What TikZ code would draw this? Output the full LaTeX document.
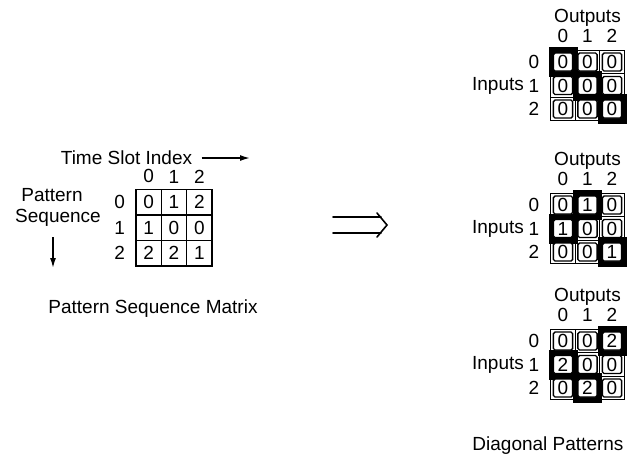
\documentclass[tikz,border=0pt]{standalone}
\usepackage{fontspec}
\setmainfont{Liberation Sans}
\usetikzlibrary{positioning,arrows.meta}

\tikzstyle{txt}=[inner sep=0pt, font=\fontsize{9.5}{11}\selectfont]
\tikzstyle{seqcell}=[
	rectangle,
	draw=black,
	line width=0.75pt,
	minimum width=12.65pt,
	minimum height=12.75pt,
	inner sep=0pt,
	font=\fontsize{9.5}{11}\selectfont
	]
\tikzstyle{cellbox}=[
	rectangle,
	draw=black,
	line width=0.45pt,
	minimum width=12.25pt,
	minimum height=11.75pt,
	inner sep=0pt
	]
\tikzstyle{hotbox}=[cellbox, fill=black, minimum width=14pt, minimum height=14.5pt]
\tikzstyle{slot}=[
	rectangle,
	draw=black,
	fill=white,
	line width=0.7pt,
	rounded corners=0.8pt,
	minimum width=9.6pt,
	minimum height=9pt,
	inner sep=0pt,
	font=\fontsize{9.5}{11}\selectfont
	]
\tikzstyle{flow}=[line width=0.75pt, -{Latex[length=5pt,width=3pt]}]
\tikzstyle{maps}=[line width=0.8pt, line cap=round, line join=miter]

\begin{document}
\begin{tikzpicture}[x=0.5pt, y=-0.5pt]
	\useasboundingbox (0,0) rectangle (638,457);

	% sequence matrix on the left
	\node (TimeSlot) [txt] at (126.5,158) {Time Slot Index};
	\coordinate (SlotEnd) at (250,158);
	\draw[flow] ([xshift=4.5pt]TimeSlot.east) -- (SlotEnd);

	\node (Pattern) [txt] at (52,195) {Pattern};
	\node (Sequence) [txt] at (58,218) {Sequence};
	\coordinate (SeqEnd) at (53,268);
	\draw[flow] (53,237) -- (SeqEnd);

	\foreach \v [count=\k from 0] in {0,1,2,1,0,0,2,2,1} {
		\pgfmathtruncatemacro\r{floor(\k/3)}
		\pgfmathtruncatemacro\c{\k-3*\r}
		\node (Seq-\r-\c) [seqcell] at (148.7+25.3*\c, 202+25.5*\r) {\v};
	}
	\foreach \i in {0,1,2} {
		\node (SeqCol-\i) [txt, above=2.5pt of Seq-0-\i] {\i};
		\node (SeqRow-\i) [txt, left=5pt of Seq-\i-0] {\i};
	}
	\node (SeqTitle) [txt] at (153,309) {Pattern Sequence Matrix};

	% the long double arrow
	\coordinate (MapStart) at (333,225);
	\coordinate (MapEnd) at (387,225);
	\draw[maps] ([yshift=4pt]MapStart) -- ([xshift=-3pt,yshift=4pt]MapEnd)
		([yshift=-4pt]MapStart) -- ([xshift=-3pt,yshift=-4pt]MapEnd);
	\draw[maps] ([xshift=-5pt,yshift=6pt]MapEnd) -- (MapEnd) -- ([xshift=-5pt,yshift=-6pt]MapEnd);

	% the three diagonal patterns
	\foreach \m/\ry/\vals in {
		Top/62/{0/1,0/0,0/0,0/0,0/1,0/0,0/0,0/0,0/1},
		Mid/205/{0/0,1/1,0/0,1/1,0/0,0/0,0/0,0/0,1/1},
		Bot/341/{0/0,0/0,2/1,2/1,0/0,0/0,0/0,2/1,0/0}} {
		\foreach \v/\h [count=\k from 0] in \vals {
			\pgfmathtruncatemacro\r{floor(\k/3)}
			\pgfmathtruncatemacro\c{\k-3*\r}
			\node (\m-box-\r-\c) [cellbox] at (563+24.5*\c, \ry+23.5*\r) {};
			\ifnum\h=1
				\node [hotbox] at (\m-box-\r-\c) {};
			\fi
		}
		\foreach \v/\h [count=\k from 0] in \vals {
			\pgfmathtruncatemacro\r{floor(\k/3)}
			\pgfmathtruncatemacro\c{\k-3*\r}
			\node (\m-\r-\c) [slot] at (\m-box-\r-\c) {\v};
		}
		\foreach \i in {0,1,2} {
			\node (\m-col-\i) [txt] at (563+24.5*\i, \ry-26) {\i};
			\node (\m-row-\i) [txt] at (534, \ry+23.5*\i) {\i};
		}
		\node (\m-out) [txt] at (587.5, \ry-44) {Outputs};
		\node (\m-in) [txt] at (498, \ry+23.5) {Inputs};
	}
	\node (DiagTitle) [txt] at (548,446) {Diagonal Patterns};

\end{tikzpicture}
\end{document}
